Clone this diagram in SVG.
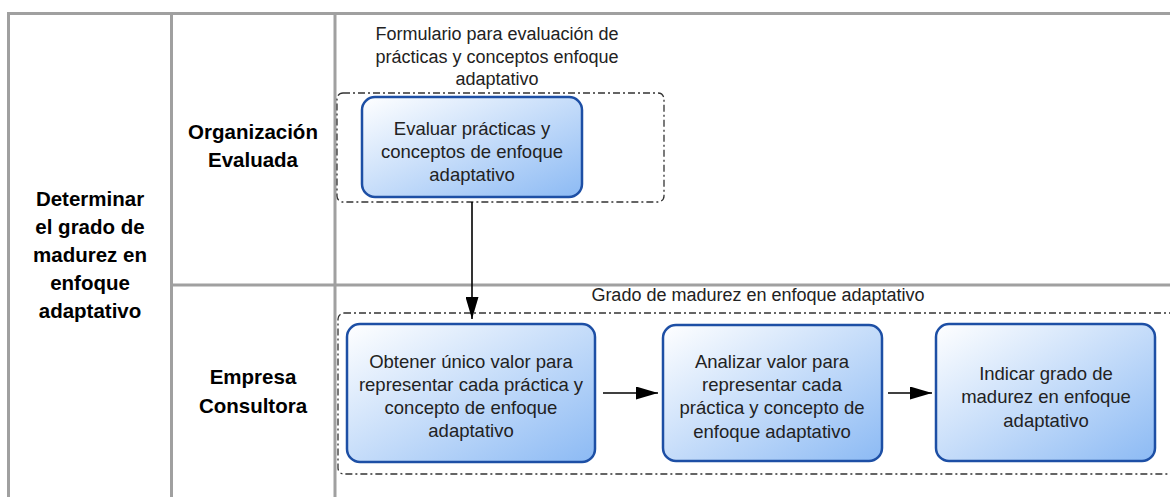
<svg xmlns="http://www.w3.org/2000/svg" width="1170" height="497" viewBox="0 0 1170 497">
<defs>
<linearGradient id="nodeFill" x1="0" y1="0" x2="1" y2="1">
<stop offset="0" stop-color="#ffffff"/>
<stop offset="1" stop-color="#8cbaf4"/>
</linearGradient>
<marker id="arrow" markerUnits="userSpaceOnUse" markerWidth="22" markerHeight="13" refX="22" refY="6.5" orient="auto">
<path d="M0,0 L22,6.5 L0,13 Z" fill="#000"/>
</marker>
<style>
.grid{stroke:#a0a0a0;stroke-width:3;fill:none}
.group{fill:none;stroke:#333;stroke-width:1.3;stroke-dasharray:7 3 2 3}
.node rect{fill:url(#nodeFill);stroke:#1d4fa5;stroke-width:2.5}
.ntext{font-family:"Liberation Sans",Arial,sans-serif;font-size:18.5px;fill:#222;text-anchor:middle}
.label{font-family:"Liberation Sans",Arial,sans-serif;font-size:18px;fill:#222;text-anchor:middle}
.lane{font-family:"Liberation Sans",Arial,sans-serif;font-size:20.5px;font-weight:bold;fill:#000;text-anchor:middle}
.conn{stroke:#000;stroke-width:1.6;fill:none;marker-end:url(#arrow)}
</style>
</defs>
<rect width="1170" height="497" fill="#fff"/>
<g id="pool">
<line class="grid" x1="8.5" y1="13.5" x2="1170" y2="13.5"/>
<line class="grid" x1="8.5" y1="12" x2="8.5" y2="497"/>
<line class="grid" x1="171.5" y1="12" x2="171.5" y2="497"/>
<line class="grid" x1="335" y1="12" x2="335" y2="497"/>
<line class="grid" x1="171.5" y1="285" x2="1170" y2="285"/>
<text class="lane"><tspan x="90" y="206">Determinar</tspan><tspan x="90" y="234">el grado de</tspan><tspan x="90" y="262">madurez en</tspan><tspan x="90" y="290">enfoque</tspan><tspan x="90" y="318">adaptativo</tspan></text>
</g>
<g id="lane-org">
<text class="lane"><tspan x="253" y="139">Organización</tspan><tspan x="253" y="167">Evaluada</tspan></text>
</g>
<g id="lane-emp">
<text class="lane"><tspan x="253" y="384">Empresa</tspan><tspan x="253" y="413">Consultora</tspan></text>
</g>
<g id="group-formulario">
<rect class="group" x="337" y="93" width="327" height="109" rx="6"/>
<text class="label"><tspan x="497" y="40">Formulario para evaluación de</tspan><tspan x="497" y="62.5">prácticas y conceptos enfoque</tspan><tspan x="497" y="85">adaptativo</tspan></text>
</g>
<g id="group-grado">
<rect class="group" x="338" y="313" width="900" height="161" rx="6"/>
<text class="label" x="758" y="301">Grado de madurez en enfoque adaptativo</text>
</g>
<g id="node-evaluar" class="node">
<rect x="362" y="97" width="220" height="100" rx="13"/>
<text class="ntext"><tspan x="472" y="135">Evaluar prácticas y</tspan><tspan x="472" y="158">conceptos de enfoque</tspan><tspan x="472" y="181">adaptativo</tspan></text>
</g>
<g id="node-obtener" class="node">
<rect x="347" y="324" width="248" height="138" rx="13"/>
<text class="ntext"><tspan x="471" y="368">Obtener único valor para</tspan><tspan x="471" y="391">representar cada práctica y</tspan><tspan x="471" y="414">concepto de enfoque</tspan><tspan x="471" y="437">adaptativo</tspan></text>
</g>
<g id="node-analizar" class="node">
<rect x="663" y="325" width="219" height="136" rx="13"/>
<text class="ntext"><tspan x="772" y="368">Analizar valor para</tspan><tspan x="772" y="391">representar cada</tspan><tspan x="772" y="414">práctica y concepto de</tspan><tspan x="772" y="438">enfoque adaptativo</tspan></text>
</g>
<g id="node-indicar" class="node">
<rect x="936" y="324" width="219" height="137" rx="13"/>
<text class="ntext"><tspan x="1046" y="380">Indicar grado de</tspan><tspan x="1046" y="403">madurez en enfoque</tspan><tspan x="1046" y="427">adaptativo</tspan></text>
</g>
<g id="connectors">
<line class="conn" x1="472" y1="202" x2="472" y2="319"/>
<line class="conn" x1="603" y1="393" x2="658" y2="393"/>
<line class="conn" x1="888" y1="393" x2="932" y2="393"/>
</g>
</svg>
